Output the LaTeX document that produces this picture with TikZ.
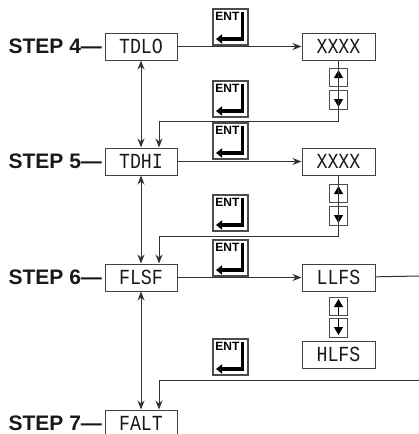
\documentclass[tikz,border=0pt]{standalone}
\usepackage{fontspec}
\setmainfont{Liberation Sans}
\newfontfamily\dispfont[FakeStretch=0.85]{Liberation Mono}
\usetikzlibrary{arrows.meta,positioning}

\begin{document}
\begin{tikzpicture}[
    x=1pt, y=-1pt,
    line width=1pt, color=black!80,
    display/.style={draw=black!75, line width=1pt, minimum width=72pt, minimum height=27pt, inner sep=0pt, font=\dispfont\fontsize{21.5}{21.5}\selectfont, text=black!90},
    steplabel/.style={font=\bfseries\fontsize{21}{21}\selectfont, inner sep=0pt, text=black!90},
    arrow/.style={-{Stealth[length=9pt,width=7pt]}},
    dblarrow/.style={{Stealth[length=9pt,width=7pt]}-{Stealth[length=9pt,width=7pt]}},
    enterkey/.style={draw=black!70, line width=1.2pt, minimum width=35pt, minimum height=36pt, inner sep=0pt,
        label={[anchor=north west, inner sep=0pt, xshift=2.5pt, yshift=-3.5pt, text=black, font=\bfseries\fontsize{12}{12}\selectfont]north west:ENT},
        path picture={
            \draw[black, line width=3.5pt, -{Triangle[length=6pt,width=9pt]}] ([shift={(-5.5pt,-3pt)}]path picture bounding box.north east) |- ([shift={(3pt,6pt)}]path picture bounding box.south west);
        }},
    upkey/.style={draw=black!70, line width=1pt, minimum width=18pt, minimum height=18.5pt, inner sep=0pt,
        path picture={\draw[black, line width=1.3pt, -{Triangle[length=8pt,width=9pt]}] (path picture bounding box.south) -- ([yshift=-2pt]path picture bounding box.north);}},
    downkey/.style={upkey,
        path picture={\draw[black, line width=1.3pt, -{Triangle[length=8pt,width=9pt]}] (path picture bounding box.north) -- ([yshift=2pt]path picture bounding box.south);}}
]
    \useasboundingbox (0,0) rectangle (419,434);

    % left column
    \node[display] (tdlo) at (141,46.5) {TDLO};
    \node[display, below=87pt of tdlo] (tdhi) {TDHI};
    \node[display, below=88pt of tdhi] (flsf) {FLSF};
    \node[display, below=118pt of flsf] (falt) {FALT};

    \node[steplabel, left=2pt of tdlo] (step4) {STEP 4—};
    \node[steplabel, left=2pt of tdhi] (step5) {STEP 5—};
    \node[steplabel, left=2pt of flsf] (step6) {STEP 6—};
    \node[steplabel, left=2pt of falt] (step7) {STEP 7—};

    % right column
    \node[display, minimum width=73pt, right=124pt of tdlo] (xxxxa) {XXXX};
    \node[display, minimum width=73pt, right=124pt of tdhi] (xxxxb) {XXXX};
    \node[display, minimum width=73pt, right=124pt of flsf] (llfs) {LLFS};

    \node[upkey, below=7pt of xxxxa] (upa) {};
    \node[downkey, below=3pt of upa] (downa) {};
    \node[upkey, below=8pt of xxxxb] (upb) {};
    \node[downkey, below=3pt of upb] (downb) {};
    \node[upkey, below=5pt of llfs] (upc) {};
    \node[downkey, below=2pt of upc] (downc) {};
    \node[display, minimum width=73pt, below=3pt of downc] (hlfs) {HLFS};

    % enter keys
    \node[enterkey] (enta) at (230.5,27) {};
    \node[enterkey] (entb) at (230.5,99) {};
    \node[enterkey] (entc) at (230.5,141) {};
    \node[enterkey] (entd) at (230.5,213) {};
    \node[enterkey] (ente) at (230.5,258) {};
    \node[enterkey] (entf) at (230.5,357) {};

    \coordinate (exitc) at (420,276);
    \coordinate (entryd) at (420,380);

    \draw[arrow] (tdlo) -- (xxxxa);
    \draw[arrow] (tdhi) -- (xxxxb);
    \draw[arrow] (flsf) -- (llfs);
    \draw (llfs) -- (exitc);

    \draw[dblarrow] (tdlo) -- (tdhi);
    \draw[dblarrow] (tdhi) -- (flsf);
    \draw[dblarrow] (flsf) -- (falt);

    \draw[arrow] (xxxxa.south) -- ++(0,61) -| ([xshift=18pt]tdhi.north);
    \draw[arrow] (xxxxb.south) -- ++(0,61) -| ([xshift=18pt]flsf.north);
    \draw[arrow] (entryd) -| ([xshift=18pt]falt.north);
\end{tikzpicture}
\end{document}
